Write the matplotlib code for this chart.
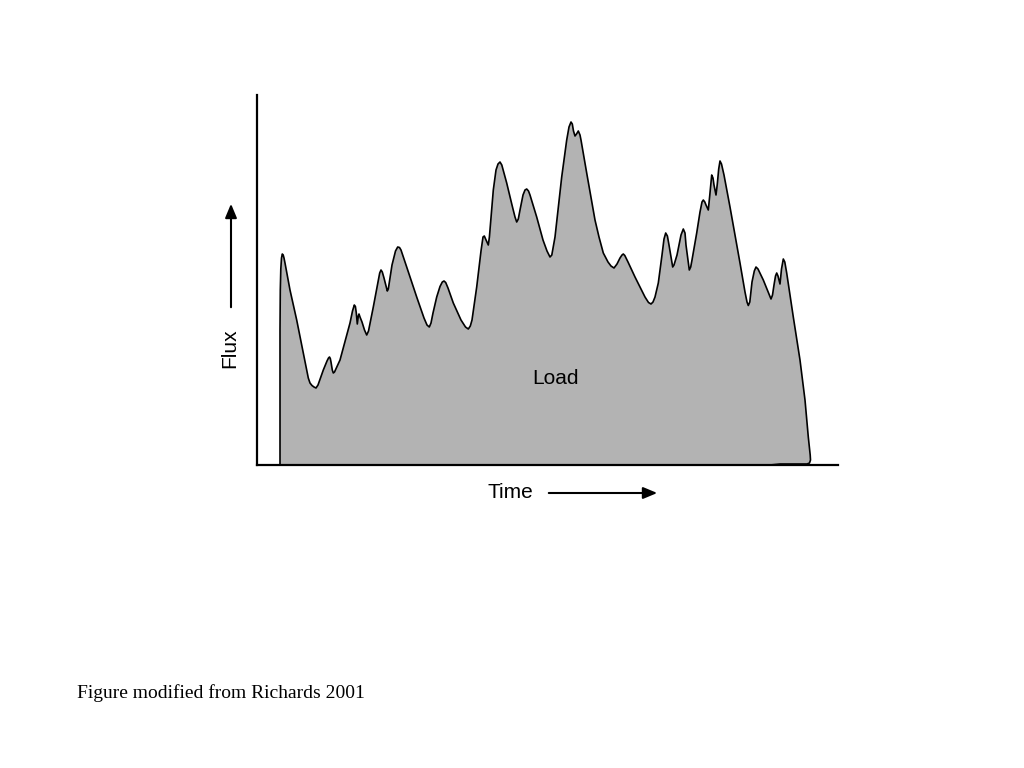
import matplotlib.pyplot as plt
from matplotlib.patches import FancyArrowPatch

# load hydrograph (time, flux in arbitrary units)
time = [23, 23, 23.3, 23.8, 24.5, 25.3, 26.2, 27, 28, 33, 39.7, 46.3, 51.3, 53, 55, 57, 59, 61,
        66.3, 70, 71.5, 72.5, 73.3, 74, 75.3, 76.3, 77.5, 83, 93, 95.5, 97.3, 98.4, 99.3,
        100.3, 101.3, 102, 103, 105, 107.5, 109.7, 111.5, 116.3, 121, 122.7, 124, 125.3, 127,
        130.3, 131.3, 135, 138.5, 140.7, 142.5, 144, 149.7, 159.7, 167, 170, 172.3, 174, 176,
        179.7, 183, 185.3, 187, 188.7, 191, 196.3, 204, 208.5, 211.3, 213.3, 215, 219.7, 224,
        226, 227.3, 228.6, 231.3, 232.4, 236.3, 239, 241, 243, 244.8, 249.7, 255, 258, 259.7,
        261.3, 263, 266, 268, 269.7, 271.5, 273, 279.7, 286, 290, 293, 294.8, 298, 304.7,
        309.7, 312, 314, 315.3, 316.5, 318, 319.5, 321.3, 323, 324, 329.7, 338, 342, 346.3,
        351, 354, 357, 360, 363, 365, 366.3, 367.8, 371, 378, 388, 391.5, 394, 396, 398,
        401.3, 405, 407, 408.7, 410.4, 412, 415.7, 417, 420, 424, 426.3, 428, 429, 432.3,
        433.7, 435, 439.7, 443, 445, 446.3, 447.8, 449, 451.3, 452.8, 454.7, 456, 457, 459,
        460.3, 461.7, 463, 464.5, 467, 473, 483, 488, 490, 491.3, 492.8, 495, 497.3, 499,
        501, 506.3, 514, 515.5, 517, 518.5, 519.7, 521, 523, 524.5, 526.3, 527.8, 529.7,
        536.3, 543, 548, 551.3, 553.2, 553.5, 552.5, 550, 543, 523, 513]
flux = [0, 135, 175, 196, 207, 211, 210, 207, 202, 175, 145, 112, 87, 82, 79.5, 78, 77, 80,
        95, 104, 107, 108, 106.5, 103, 95, 92, 93, 105, 142, 154, 160, 158.5, 152,
        141, 149, 151, 148, 143, 135, 130, 134, 158, 183, 192, 195, 193, 187,
        174, 176, 200, 214, 218, 217.5, 215, 198, 168, 147, 140, 138, 142, 152,
        168, 178.5, 183, 184, 182.5, 177, 162, 145, 138, 136, 139, 145, 178, 214,
        228, 229, 226, 220, 228, 275, 295, 301, 303, 300, 282, 260, 248, 243,
        246, 255, 270, 275, 276, 274, 270, 248, 225, 214, 208, 210, 228, 288,
        325, 338, 343, 341, 334, 329, 331, 334, 330, 325, 292, 245, 228, 212,
        203, 199, 197, 201, 207, 210, 211, 209.5, 203, 188, 168, 162.5, 161, 163, 168,
        182, 210, 226, 232, 229, 220, 198, 200, 210, 230, 236, 232, 220, 195,
        198, 205, 232, 253, 263, 265, 263, 260, 255, 270, 290, 287, 280, 270,
        281, 296, 304, 301, 290, 258, 202, 173, 163, 159.5, 163, 183, 194, 198,
        196, 185, 166, 170, 180, 189, 192, 189, 181, 196, 206, 203, 192,
        148, 105, 65, 28, 10, 5, 2, 1, 1, 1, 0]

fig = plt.figure(figsize=(10.24, 7.68), dpi=100)
ax = fig.add_axes([257 / 1024, 303 / 768, 581 / 1024, 370 / 768])

ax.fill(time, flux, facecolor='#b3b3b3', edgecolor='black', linewidth=1.2,
        joinstyle='round')

ax.set_xlim(0, 581)
ax.set_ylim(0, 370)
ax.spines['top'].set_visible(False)
ax.spines['right'].set_visible(False)
ax.spines['left'].set_linewidth(1.6)
ax.spines['bottom'].set_linewidth(1.6)
ax.set_xticks([])
ax.set_yticks([])

ax.text(298, 86, 'Load', fontsize=15, family='Liberation Sans',
        ha='center', va='center')

# axis labels with arrows
fig.text(230 / 1024, 1 - 348 / 768, 'Flux', fontsize=15, family='Liberation Sans',
         rotation=90, ha='center', va='center')
fig.text(510 / 1024, 1 - 493 / 768, 'Time', fontsize=15, family='Liberation Sans',
         ha='center', va='center')
style = '-|>,head_length=0.6,head_width=0.25'
fig.add_artist(FancyArrowPatch((231 / 1024, 1 - 310 / 768), (231 / 1024, 1 - 201 / 768),
                               transform=fig.transFigure, mutation_scale=14,
                               arrowstyle=style, color='black', linewidth=1.5))
fig.add_artist(FancyArrowPatch((546 / 1024, 1 - 493 / 768), (660 / 1024, 1 - 493 / 768),
                               transform=fig.transFigure, mutation_scale=14,
                               arrowstyle=style, color='black', linewidth=1.5))

fig.text(77 / 1024, 1 - 693 / 768, 'Figure modified from Richards 2001', fontsize=14,
         family='Liberation Serif', ha='left', va='center')

fig.savefig('out.png', dpi=100)
